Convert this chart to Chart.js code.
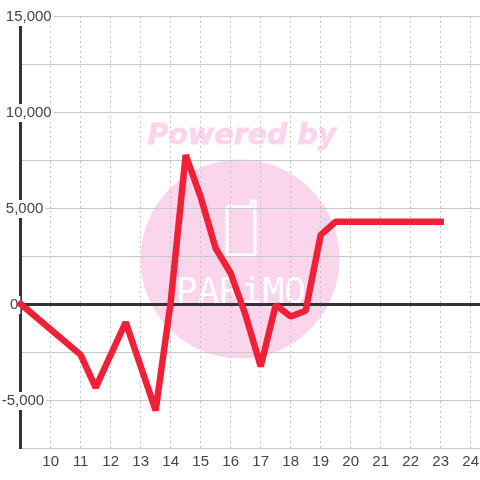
<!DOCTYPE html>
<html>
<head>
<meta charset="utf-8">
<style>html,body{margin:0;padding:0;background:#fff}canvas{display:block}</style>
<script src="https://cdn.jsdelivr.net/npm/chart.js@4"></script>
</head>
<body>
<canvas id="c" width="480" height="480"></canvas>
<script>
const xValues = [9, 11, 11.5, 12.5, 13.5, 14, 14.5, 15, 15.5, 16, 16.5, 17, 17.5, 18, 18.5, 19, 19.5, 20, 21, 22, 23];
const yValues = [0, -2650, -4350, -950, -5550, 100, 7760, 5570, 2900, 1600, -600, -3250, -50, -650, -350, 3600, 4290, 4290, 4290, 4290, 4290];
const xTicks = [9, 10, 11, 12, 13, 14, 15, 16, 17, 18, 19, 20, 21, 22, 23, 24];
const yLabelled = [15000, 10000, 5000, 0, -5000];
const fontFamily = '"Liberation Sans", Arial, sans-serif';

const watermark = {
  id: 'watermark',
  beforeDraw(chart) {
    const c = chart.ctx;
    c.save();
    c.fillStyle = '#ffffff';
    c.fillRect(0, 0, 480, 480);
    c.fillStyle = '#fbd5ec';
    c.beginPath();
    c.arc(240, 259, 99.5, 0, Math.PI * 2);
    c.fill();
    c.font = 'italic bold 28.5px "DejaVu Sans"';
    c.textAlign = 'center';
    c.textBaseline = 'alphabetic';
    c.fillText('Powered by', 242, 144);
    c.strokeStyle = '#fbd5ec';
    c.lineWidth = 0.8;
    c.strokeText('Powered by', 242, 144);
    c.fillStyle = '#ffffff';
    c.font = '36px "DejaVu Sans Mono"';
    c.fillText('PARiMO', 241, 303);
    c.strokeStyle = '#ffffff';
    c.lineWidth = 3;
    c.lineJoin = 'round';
    c.beginPath();
    c.moveTo(230, 207);
    c.lineTo(251, 207);
    c.lineTo(251, 201);
    c.lineTo(255, 201);
    c.lineTo(255, 255);
    c.lineTo(227, 255);
    c.lineTo(227, 207);
    c.closePath();
    c.stroke();
    c.restore();
  }
};

new Chart(document.getElementById('c'), {
  type: 'line',
  plugins: [watermark],
  data: {
    datasets: [{
      data: xValues.map((x, i) => ({ x, y: yValues[i] })),
      borderColor: '#f02137',
      borderWidth: 6.5,
      borderJoinStyle: 'bevel',
      borderCapStyle: 'square',
      pointRadius: 0,
      fill: false,
      tension: 0,
      clip: false
    }]
  },
  options: {
    responsive: false,
    animation: false,
    layout: { padding: { top: 16 } },
    plugins: { legend: { display: false }, tooltip: { enabled: false }, title: { display: false } },
    scales: {
      x: {
        type: 'linear',
        min: 9,
        max: 24.31,
        afterBuildTicks(s) { s.ticks = xTicks.map(value => ({ value })); },
        afterFit(s) { s.height = 32; s.paddingLeft = 0; s.paddingRight = 0; },
        grid: {
          color: '#c4c4c4',
          lineWidth: 1,
          tickLength: 0,
          drawTicks: false
        },
        border: { display: true, color: '#c8c8c8', dash: [2, 3], width: 1 },
        ticks: {
          autoSkip: false,
          maxRotation: 0,
          padding: 5,
          color: '#444444',
          font: { family: fontFamily, size: 15 },
          callback: v => (v === 9 ? '' : String(v))
        }
      },
      y: {
        min: -7500,
        max: 15000,
        afterFit(s) { s.width = 20.67; s.paddingTop = 0; s.paddingBottom = 0; },
        grid: {
          color: c => (c.tick.value === 0 ? '#333333' : '#c8c8c8'),
          lineWidth: c => (c.tick.value === 0 ? 3 : 1),
          drawTicks: false,
          tickLength: 0
        },
        border: { display: true, color: '#333333', width: 3 },
        ticks: {
          stepSize: 2500,
          mirror: true,
          padding: -19,
          labelOffset: 1,
          color: '#444444',
          font: { family: fontFamily, size: 15 },
          showLabelBackdrop: true,
          backdropColor: c => (yLabelled.includes(c.tick.value) ? '#ffffff' : 'rgba(0,0,0,0)'),
          backdropPadding: { top: 0, bottom: 0, left: 2, right: 2 },
          callback: v => (yLabelled.includes(v) ? (v < 0 ? '' : v === 0 ? '  ' : ' ') + v.toLocaleString('en-US') : '')
        }
      }
    }
  }
});
</script>
</body>
</html>
